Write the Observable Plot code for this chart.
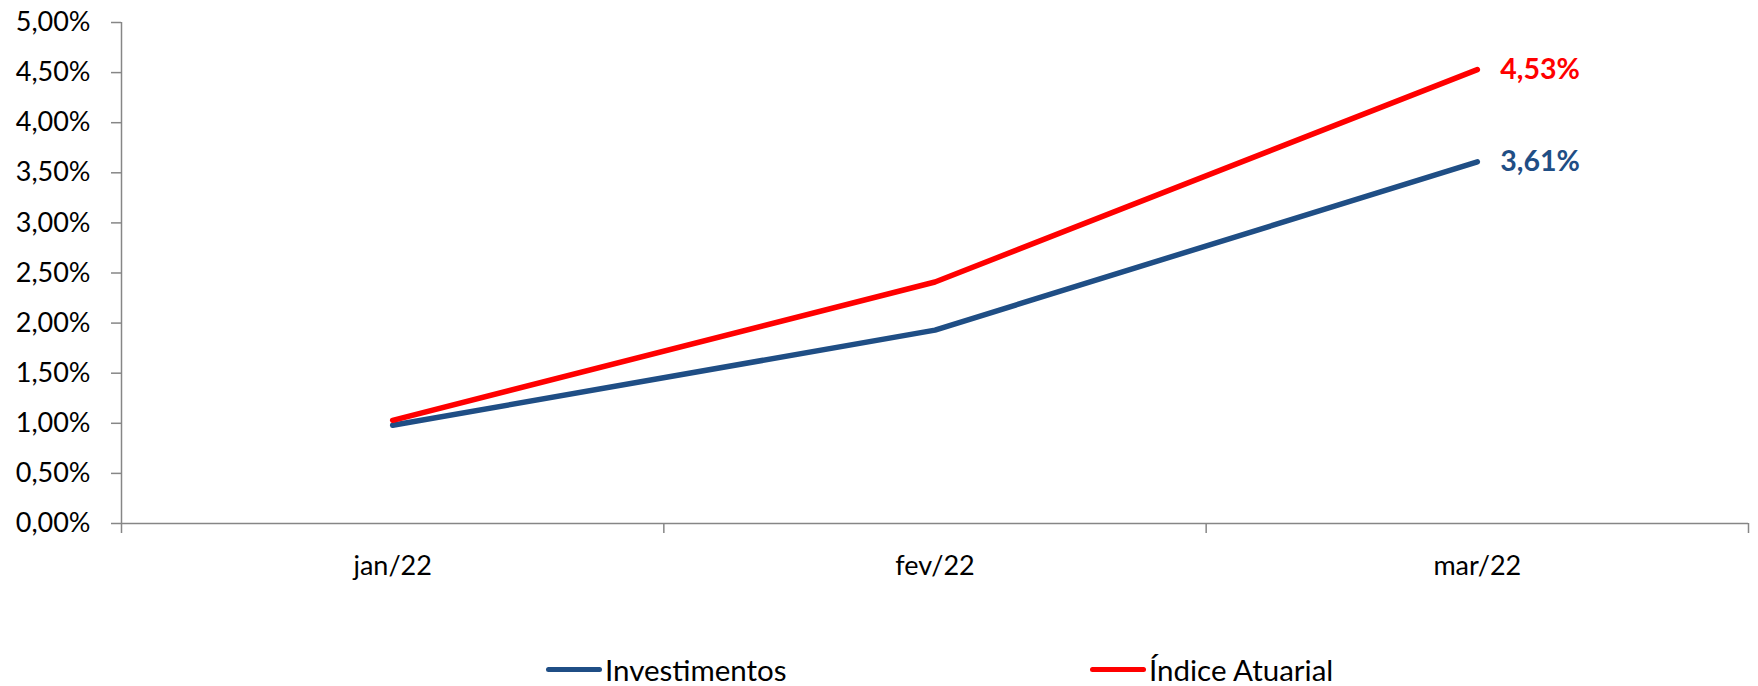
<!DOCTYPE html>
<html><head><meta charset="utf-8">
<script src="https://cdn.jsdelivr.net/npm/d3@7"></script>
<script src="https://cdn.jsdelivr.net/npm/@observablehq/plot@0.6"></script>
<style>
body{margin:0;background:#fff;font-family:Lato,sans-serif;}
#legend{position:relative;height:86px;}
.item{position:absolute;top:55px;display:flex;align-items:center;font-size:29.5px;line-height:29px;color:#000;}
.sw{width:56px;height:5px;border-radius:3px;margin-right:3px;}
</style></head><body><div id="chart"></div><div id="legend"></div>
<script>
const months = ["jan/22", "fev/22", "mar/22"];
const investimentos = [0.98, 1.93, 3.61];
const indiceAtuarial = [1.03, 2.41, 4.53];
const yTicks = [0, 0.5, 1, 1.5, 2, 2.5, 3, 3.5, 4, 4.5, 5];
const seriesNames = ["Investimentos", "Índice Atuarial"];
const seriesColors = ["#1F4E85", "#FF0000"];

const fmt = v => v.toFixed(2).replace(".", ",") + "%";
const seriesValues = [investimentos, indiceAtuarial];
const data = seriesNames.flatMap((s, k) => months.map((m, i) => ({series: s, i, value: seriesValues[k][i]})));
const last = seriesNames.map((s, k) => ({series: s, i: months.length - 1, value: seriesValues[k][months.length - 1]}));
const bounds = d3.range(months.length + 1).map(i => i - 0.5);
const axisGray = "#868686";

const chart = Plot.plot({
  width: 1758, height: 600,
  marginLeft: 121, marginRight: 10, marginTop: 22, marginBottom: 77,
  style: {fontFamily: "Lato, sans-serif", fontSize: "27px", color: "#000", background: "#fff"},
  x: {domain: [bounds[0], bounds[bounds.length - 1]], axis: null},
  y: {domain: [0, 5], axis: null},
  color: {domain: seriesNames, range: seriesColors},
  marks: [
    Plot.axisY({ticks: yTicks, tickSize: 10, tickPadding: 21, tickFormat: fmt, stroke: axisGray, fill: "#000", strokeWidth: 1.5, label: null}),
    Plot.axisX({ticks: bounds, tickSize: 10, tickFormat: () => "", stroke: axisGray, strokeWidth: 1.5, label: null}),
    Plot.axisX({ticks: months.map((_, i) => i), tickSize: 0, tickPadding: 32, tickFormat: i => months[i], fill: "#000", label: null}),
    Plot.ruleX([bounds[0]], {stroke: axisGray, strokeWidth: 1.5}),
    Plot.ruleY([0], {stroke: axisGray, strokeWidth: 1.5}),
    Plot.line(data, {x: "i", y: "value", z: "series", stroke: "series", strokeWidth: 5.5, strokeLinecap: "round", strokeLinejoin: "round"}),
    Plot.text(last, {x: "i", y: "value", text: d => fmt(d.value), fill: "series", dx: 23, textAnchor: "start", fontWeight: "bold", fontSize: 28.5})
  ]
});
document.getElementById("chart").appendChild(chart);

const legendLeft = [546, 1090];
const lg = document.getElementById("legend");
seriesNames.forEach((s, k) => {
  const it = document.createElement("div");
  it.className = "item";
  it.style.left = legendLeft[k] + "px";
  const sw = document.createElement("div");
  sw.className = "sw";
  sw.style.background = seriesColors[k];
  const t = document.createElement("span");
  t.textContent = s;
  it.appendChild(sw); it.appendChild(t);
  lg.appendChild(it);
});
</script>
</body></html>
